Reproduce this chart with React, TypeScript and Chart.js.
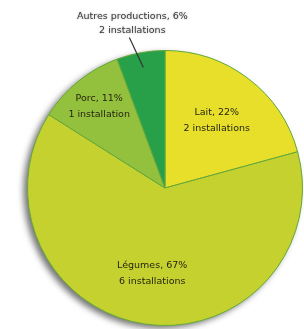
import React, { useEffect, useRef } from "react";
import { Chart, registerables } from "chart.js";

Chart.register(...registerables);

const categories = ["Lait", "Légumes", "Porc", "Autres productions"];
const percentages = [22, 67, 11, 6];
const installations = ["2 installations", "6 installations", "1 installation", "2 installations"];
const colors = ["#e7df2a", "#c5d12f", "#94c13d", "#28a049"];

const labelPlugin = {
  id: "sliceLabels",
  beforeDatasetsDraw(chart: any) {
    const meta = chart.getDatasetMeta(0);
    const a = meta.data[0];
    if (!a) return;
    const { x, y, outerRadius } = a.getProps(["x", "y", "outerRadius"], true);
    const ctx = chart.ctx;
    ctx.save();
    ctx.shadowColor = "rgba(0,0,0,0.55)";
    ctx.shadowBlur = 6;
    ctx.shadowOffsetX = -4;
    ctx.shadowOffsetY = 3;
    ctx.fillStyle = "#c5d12f";
    ctx.beginPath();
    ctx.arc(x, y, outerRadius, 0, Math.PI * 2);
    ctx.fill();
    ctx.restore();
  },
  afterDatasetsDraw(chart: any) {
    const meta = chart.getDatasetMeta(0);
    const ctx = chart.ctx;
    const factors = [0.62, 0.63, 0.76, 1.0];
    ctx.save();
    ctx.font = "9.5px 'DejaVu Sans', Verdana, sans-serif";
    ctx.textAlign = "center";
    ctx.textBaseline = "middle";
    meta.data.forEach((arc: any, i: number) => {
      const { x, y, startAngle, endAngle, outerRadius } = arc.getProps(
        ["x", "y", "startAngle", "endAngle", "outerRadius"],
        true
      );
      const mid = (startAngle + endAngle) / 2;
      const line1 = `${categories[i]}, ${percentages[i]}%`;
      const line2 = installations[i];
      if (i === 3) {
        const px = x + Math.cos(mid) * outerRadius * 0.89;
        const py = y + Math.sin(mid) * outerRadius * 0.89;
        const lx = px - 14;
        const ly = py - 30;
        ctx.strokeStyle = "#333";
        ctx.lineWidth = 1.2;
        ctx.beginPath();
        ctx.moveTo(px, py);
        ctx.lineTo(lx, ly);
        ctx.stroke();
        ctx.shadowColor = "rgba(120,120,120,0.6)";
        ctx.shadowBlur = 2;
        ctx.fillStyle = "#3a3a3a";
        ctx.fillText(line1, lx + 3, ly - 21);
        ctx.fillText(line2, lx + 3, ly - 7);
        ctx.shadowBlur = 0;
        ctx.shadowColor = "transparent";
      } else {
        const r = outerRadius * factors[i];
        const cx = x + Math.cos(mid) * r;
        const cy = y + Math.sin(mid) * r;
        ctx.fillStyle = "#26260f";
        ctx.fillText(line1, cx, cy - 8);
        ctx.fillText(line2, cx, cy + 8);
      }
    });
    ctx.restore();
  },
};

export default function App() {
  const ref = useRef<HTMLCanvasElement>(null);
  useEffect(() => {
    document.body.style.margin = "0";
    const chart = new Chart(ref.current as HTMLCanvasElement, {
      type: "pie",
      data: {
        labels: categories,
        datasets: [
          {
            data: percentages,
            backgroundColor: colors,
            borderColor: "#62a83c",
            borderWidth: 1,
          },
        ],
      },
      options: {
        responsive: false,
        animation: false,
        layout: { padding: { top: 50, bottom: 3, left: 27, right: 1 } },
        plugins: {
          legend: { display: false },
          tooltip: { enabled: false },
        },
      },
      plugins: [labelPlugin],
    });
    return () => chart.destroy();
  }, []);
  return (
    <div style={{ width: 304, height: 329, background: "#fff" }}>
      <canvas ref={ref} width={304} height={329} />
    </div>
  );
}
